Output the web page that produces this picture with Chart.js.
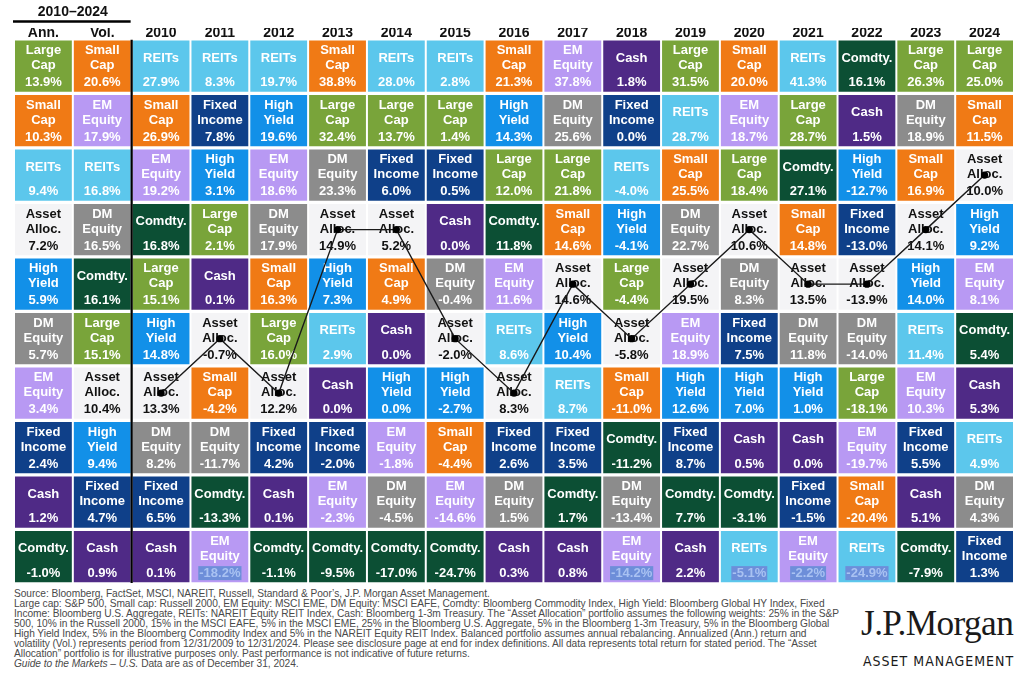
<!DOCTYPE html>
<html>
<head>
<meta charset="utf-8">
<script src="https://cdn.jsdelivr.net/npm/chart.js@4.4.1/dist/chart.umd.min.js"></script>
<style>
  html, body { margin: 0; padding: 0; background: #fff; }
  #page { position: relative; width: 1024px; height: 688px; overflow: hidden; }
  #chartBox { position: absolute; left: 0; top: 0; width: 1024px; height: 588px; }
  #notes {
    position: absolute; left: 14px; top: 589px;
    font-family: "Liberation Sans", Arial, sans-serif; font-size: 10.2px; line-height: 10px;
    color: #4a4a4a; white-space: nowrap; letter-spacing: -0.05px;
  }
  #logo { position: absolute; left: 861px; top: 605px; color: #1a1a1a; }
  #logo .jp { font-family: "Liberation Serif", "DejaVu Serif", serif; font-size: 35.3px; line-height: 38px; letter-spacing: -0.6px; }
  #logo .am { font-family: "Liberation Sans Narrow", "DejaVu Sans Condensed", sans-serif; font-size: 14px; letter-spacing: 1px; margin-top: 10px; margin-left: 2px; }
</style>
</head>
<body>
<div id="page">
  <div id="chartBox"><canvas id="quilt"></canvas></div>
  <div id="notes">
    Source: Bloomberg, FactSet, MSCI, NAREIT, Russell, Standard &amp; Poor’s, J.P. Morgan Asset Management.<br>
    Large cap: S&amp;P 500, Small cap: Russell 2000, EM Equity: MSCI EME, DM Equity: MSCI EAFE, Comdty: Bloomberg Commodity Index, High Yield: Bloomberg Global HY Index, Fixed<br>
    Income: Bloomberg U.S. Aggregate, REITs: NAREIT Equity REIT Index, Cash: Bloomberg 1-3m Treasury. The “Asset Allocation” portfolio assumes the following weights: 25% in the S&amp;P<br>
    500, 10% in the Russell 2000, 15% in the MSCI EAFE, 5% in the MSCI EME, 25% in the Bloomberg U.S. Aggregate, 5% in the Bloomberg 1-3m Treasury, 5% in the Bloomberg Global<br>
    High Yield Index, 5% in the Bloomberg Commodity Index and 5% in the NAREIT Equity REIT Index. Balanced portfolio assumes annual rebalancing. Annualized (Ann.) return and<br>
    volatility (Vol.) represents period from 12/31/2009 to 12/31/2024. Please see disclosure page at end for index definitions. All data represents total return for stated period. The “Asset<br>
    Allocation” portfolio is for illustrative purposes only. Past performance is not indicative of future returns.<br>
    <i>Guide to the Markets – U.S.</i> Data are as of December 31, 2024.
  </div>
  <div id="logo">
    <div class="jp">J.P.Morgan</div>
    <div class="am">ASSET MANAGEMENT</div>
  </div>
</div>
<script>
// columns of the quilt
const columns = ['Ann.', 'Vol.', '2010', '2011', '2012', '2013', '2014', '2015', '2016', '2017', '2018', '2019', '2020', '2021', '2022', '2023', '2024'];

// asset class codes, their labels and colours
const assetCodes  = ['LC', 'SC', 'RE', 'EM', 'DM', 'AA', 'HY', 'CO', 'FI', 'CA'];
const assetLabels = [['Large', 'Cap'], ['Small', 'Cap'], ['REITs'], ['EM', 'Equity'], ['DM', 'Equity'], ['Asset', 'Alloc.'], ['High', 'Yield'], ['Comdty.'], ['Fixed', 'Income'], ['Cash']];
const assetColors = ['#79a43a', '#f07a15', '#5cc7ec', '#b899f3', '#8c8c8c', '#f4f4f6', '#1290e8', '#0c4f34', '#0f4089', '#4f2a86'];

// ranking per column, best to worst
const cAnn  = ['LC', 'SC', 'RE', 'AA', 'HY', 'DM', 'EM', 'FI', 'CA', 'CO'];
const vAnn  = [13.9, 10.3, 9.4, 7.2, 5.9, 5.7, 3.4, 2.4, 1.2, -1.0];
const cVol  = ['SC', 'EM', 'RE', 'DM', 'CO', 'LC', 'AA', 'HY', 'FI', 'CA'];
const vVol  = [20.6, 17.9, 16.8, 16.5, 16.1, 15.1, 10.4, 9.4, 4.7, 0.9];
const c2010 = ['RE', 'SC', 'EM', 'CO', 'LC', 'HY', 'AA', 'DM', 'FI', 'CA'];
const v2010 = [27.9, 26.9, 19.2, 16.8, 15.1, 14.8, 13.3, 8.2, 6.5, 0.1];
const c2011 = ['RE', 'FI', 'HY', 'LC', 'CA', 'AA', 'SC', 'DM', 'CO', 'EM'];
const v2011 = [8.3, 7.8, 3.1, 2.1, 0.1, -0.7, -4.2, -11.7, -13.3, -18.2];
const c2012 = ['RE', 'HY', 'EM', 'DM', 'SC', 'LC', 'AA', 'FI', 'CA', 'CO'];
const v2012 = [19.7, 19.6, 18.6, 17.9, 16.3, 16.0, 12.2, 4.2, 0.1, -1.1];
const c2013 = ['SC', 'LC', 'DM', 'AA', 'HY', 'RE', 'CA', 'FI', 'EM', 'CO'];
const v2013 = [38.8, 32.4, 23.3, 14.9, 7.3, 2.9, 0.0, -2.0, -2.3, -9.5];
const c2014 = ['RE', 'LC', 'FI', 'AA', 'SC', 'CA', 'HY', 'EM', 'DM', 'CO'];
const v2014 = [28.0, 13.7, 6.0, 5.2, 4.9, 0.0, 0.0, -1.8, -4.5, -17.0];
const c2015 = ['RE', 'LC', 'FI', 'CA', 'DM', 'AA', 'HY', 'SC', 'EM', 'CO'];
const v2015 = [2.8, 1.4, 0.5, 0.0, -0.4, -2.0, -2.7, -4.4, -14.6, -24.7];
const c2016 = ['SC', 'HY', 'LC', 'CO', 'EM', 'RE', 'AA', 'FI', 'DM', 'CA'];
const v2016 = [21.3, 14.3, 12.0, 11.8, 11.6, 8.6, 8.3, 2.6, 1.5, 0.3];
const c2017 = ['EM', 'DM', 'LC', 'SC', 'AA', 'HY', 'RE', 'FI', 'CO', 'CA'];
const v2017 = [37.8, 25.6, 21.8, 14.6, 14.6, 10.4, 8.7, 3.5, 1.7, 0.8];
const c2018 = ['CA', 'FI', 'RE', 'HY', 'LC', 'AA', 'SC', 'CO', 'DM', 'EM'];
const v2018 = [1.8, 0.0, -4.0, -4.1, -4.4, -5.8, -11.0, -11.2, -13.4, -14.2];
const c2019 = ['LC', 'RE', 'SC', 'DM', 'AA', 'EM', 'HY', 'FI', 'CO', 'CA'];
const v2019 = [31.5, 28.7, 25.5, 22.7, 19.5, 18.9, 12.6, 8.7, 7.7, 2.2];
const c2020 = ['SC', 'EM', 'LC', 'AA', 'DM', 'FI', 'HY', 'CA', 'CO', 'RE'];
const v2020 = [20.0, 18.7, 18.4, 10.6, 8.3, 7.5, 7.0, 0.5, -3.1, -5.1];
const c2021 = ['RE', 'LC', 'CO', 'SC', 'AA', 'DM', 'HY', 'CA', 'FI', 'EM'];
const v2021 = [41.3, 28.7, 27.1, 14.8, 13.5, 11.8, 1.0, 0.0, -1.5, -2.2];
const c2022 = ['CO', 'CA', 'HY', 'FI', 'AA', 'DM', 'LC', 'EM', 'SC', 'RE'];
const v2022 = [16.1, 1.5, -12.7, -13.0, -13.9, -14.0, -18.1, -19.7, -20.4, -24.9];
const c2023 = ['LC', 'DM', 'SC', 'AA', 'HY', 'RE', 'EM', 'FI', 'CA', 'CO'];
const v2023 = [26.3, 18.9, 16.9, 14.1, 14.0, 11.4, 10.3, 5.5, 5.1, -7.9];
const c2024 = ['LC', 'SC', 'AA', 'HY', 'EM', 'CO', 'CA', 'RE', 'DM', 'FI'];
const v2024 = [25.0, 11.5, 10.0, 9.2, 8.1, 5.4, 5.3, 4.9, 4.3, 1.3];

// values that carry the blue highlight in the source picture
const highlighted = [['2011', 'EM'], ['2018', 'EM'], ['2020', 'RE'], ['2021', 'EM'], ['2022', 'RE']];

const colAssets = [cAnn, cVol, c2010, c2011, c2012, c2013, c2014, c2015, c2016, c2017, c2018, c2019, c2020, c2021, c2022, c2023, c2024];
const colValues = [vAnn, vVol, v2010, v2011, v2012, v2013, v2014, v2015, v2016, v2017, v2018, v2019, v2020, v2021, v2022, v2023, v2024];

const FONT = '"Liberation Sans", Arial, sans-serif';
const HALF = 0.47;

const barSets = assetCodes.map((code, a) => ({
    type: 'bar',
    label: assetLabels[a].join(' '),
    code: code,
    order: 1,
    data: columns.map((col, i) => {
        const r = colAssets[i].indexOf(code) + 1;
        return [r - HALF, r + HALF];
    }),
    backgroundColor: assetColors[a],
    borderWidth: 0,
    grouped: false,
    categoryPercentage: 1,
    barPercentage: 0.966
}));

// asset allocation path through the yearly columns
const allocLine = {
    type: 'line',
    label: 'Asset Alloc. path',
    order: 0,
    data: columns.map((col, i) => i < 2 ? null : colAssets[i].indexOf('AA') + 1),
    borderColor: '#1a1a1a',
    borderWidth: 1.4,
    pointRadius: 3.6,
    pointBackgroundColor: '#000',
    pointBorderWidth: 0,
    tension: 0,
    spanGaps: false
};

const cellText = {
    id: 'cellText',
    afterDatasetDraw(chart, args) {
        const ds = chart.data.datasets[args.index];
        if (ds.type !== 'bar') return;
        const a = assetCodes.indexOf(ds.code);
        const ctx = chart.ctx;
        ctx.save();
        ctx.textAlign = 'center';
        ctx.textBaseline = 'middle';
        args.meta.data.forEach((el, i) => {
            const top = Math.min(el.y, el.base);
            const h = Math.abs(el.base - el.y);
            const x = el.x;
            const lines = assetLabels[a];
            const dark = ds.code === 'AA';
            ctx.fillStyle = dark ? '#111' : '#fff';
            ctx.font = 'bold 13px ' + FONT;
            if (lines.length === 2) {
                ctx.fillText(lines[0], x, top + h * 0.2);
                ctx.fillText(lines[1], x, top + h * 0.49);
            } else {
                ctx.fillText(lines[0], x, top + h * 0.345);
            }
            const r = colAssets[i].indexOf(ds.code);
            const txt = colValues[i][r].toFixed(1) + '%';
            const vy = top + h * 0.82;
            const hl = highlighted.some(p => p[0] === columns[i] && p[1] === ds.code);
            if (hl) {
                const w = ctx.measureText(txt).width;
                ctx.fillStyle = '#6d8ed9';
                ctx.fillRect(x - w / 2 - 1, vy - 7, w + 2, 14);
                ctx.fillStyle = '#a9c2f2';
            }
            ctx.fillText(txt, x, vy);
        });
        ctx.restore();
    }
};

const headerDeco = {
    id: 'headerDeco',
    afterDraw(chart) {
        const ctx = chart.ctx;
        const xs = chart.scales.x;
        const area = chart.chartArea;
        const xAnn = xs.getPixelForValue(0);
        const xVol = xs.getPixelForValue(1);
        const x10 = xs.getPixelForValue(2);
        const step = x10 - xVol;
        ctx.save();
        // divider between the summary columns and the years
        ctx.strokeStyle = '#000';
        ctx.lineWidth = 2.2;
        ctx.beginPath();
        ctx.moveTo((xVol + x10) / 2, area.top + 1);
        ctx.lineTo((xVol + x10) / 2, area.bottom - 1);
        ctx.stroke();
        // period header with rule
        ctx.fillStyle = '#111';
        ctx.font = 'bold 14px ' + FONT;
        ctx.textAlign = 'center';
        ctx.textBaseline = 'middle';
        ctx.fillText('2010–2024', (xAnn + xVol) / 2, 12.5);
        ctx.lineWidth = 2.4;
        ctx.beginPath();
        ctx.moveTo(xAnn - step / 2 - 1, 21.5);
        ctx.lineTo(xVol + step / 2 - 1, 21.5);
        ctx.stroke();
        ctx.restore();
    }
};

new Chart(document.getElementById('quilt').getContext('2d'), {
    data: {
        labels: columns,
        datasets: [...barSets, allocLine]
    },
    options: {
        responsive: true,
        maintainAspectRatio: false,
        animation: false,
        layout: { padding: { left: 14, right: 10, top: 28, bottom: 3 } },
        plugins: {
            legend: { display: false },
            tooltip: { enabled: false }
        },
        scales: {
            x: {
                type: 'category',
                position: 'top',
                offset: true,
                grid: { display: false, drawTicks: false },
                border: { display: false },
                ticks: { color: '#111', font: { family: FONT, size: 14, weight: 'bold' }, padding: -3, maxRotation: 0, autoSkip: false }
            },
            y: {
                type: 'linear',
                min: 0.5,
                max: 10.5,
                reverse: true,
                display: false
            }
        }
    },
    plugins: [cellText, headerDeco]
});
</script>
</body>
</html>
